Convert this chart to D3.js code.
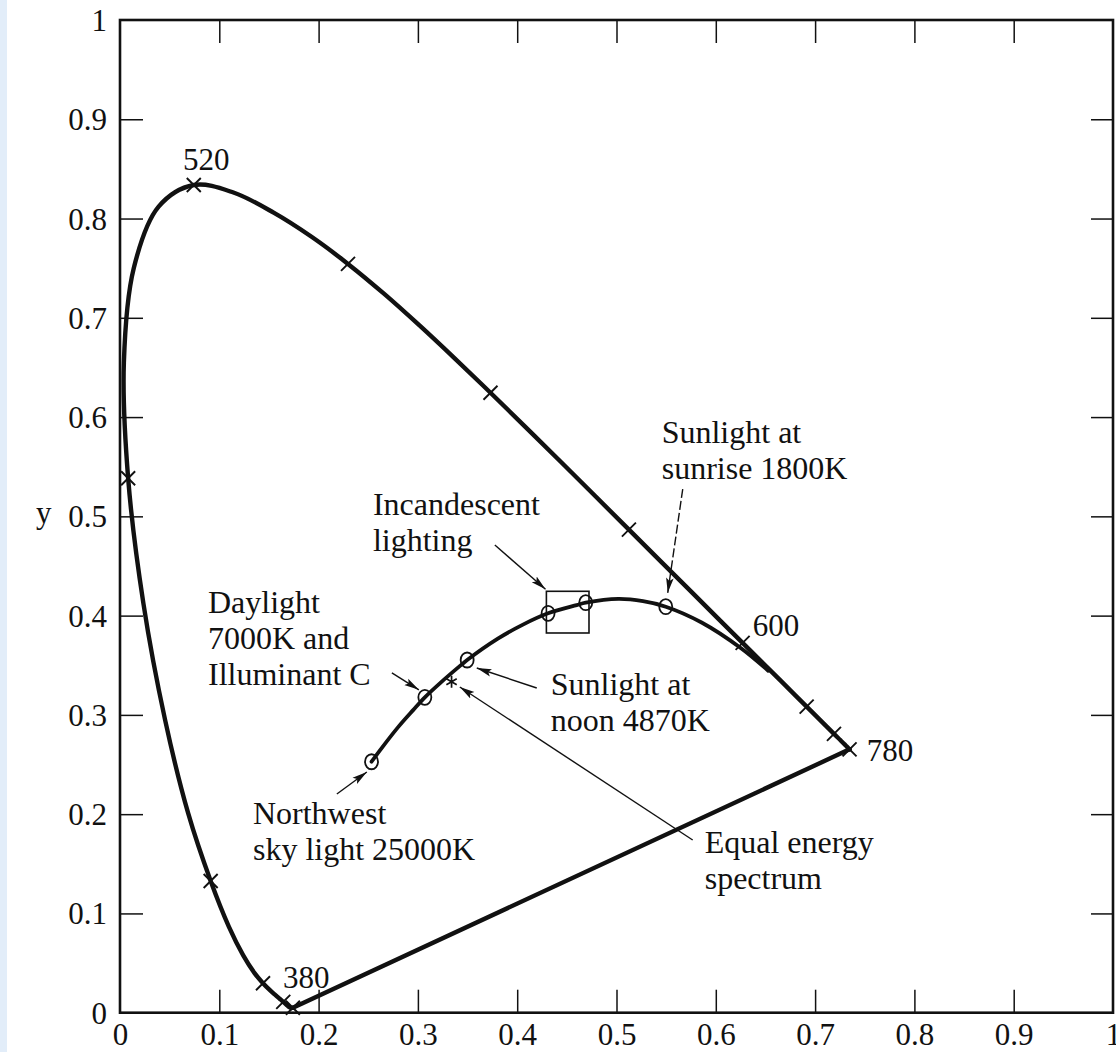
<!DOCTYPE html>
<html><head><meta charset="utf-8">
<script src="https://cdn.jsdelivr.net/npm/d3@7"></script>
<style>
html,body{margin:0;padding:0;background:#fff;}
svg{display:block;}
text{font-family:"Liberation Serif","Times New Roman",Times,serif;fill:#111;}
</style></head><body>
<svg id="chart" width="1116" height="1052"></svg>
<script>
// ---- Data ----
// Spectral locus (wavelength in nm, chromaticity x, y)
const locusWavelengths = [380,385,390,395,400,405,410,415,420,425,430,435,440,445,450,455,460,465,470,475,480,485,490,495,500,505,510,515,520,525,530,535,540,545,550,555,560,565,570,575,580,585,590,595,600,605,610,615,620,625,630,635,640,645,650,655,660,665,670,675,680,690,700,780];
const locusX = [.1741,.1740,.1738,.1736,.1733,.1730,.1726,.1721,.1714,.1703,.1689,.1669,.1644,.1611,.1566,.1510,.1440,.1355,.1241,.1096,.0913,.0687,.0454,.0235,.0082,.0039,.0139,.0389,.0743,.1142,.1547,.1929,.2296,.2658,.3016,.3373,.3731,.4087,.4441,.4788,.5125,.5448,.5752,.6029,.6270,.6482,.6658,.6801,.6915,.7006,.7079,.7140,.7190,.7230,.7260,.7283,.7300,.7311,.7320,.7327,.7334,.7344,.7347,.7347];
const locusY = [.0050,.0050,.0049,.0049,.0048,.0048,.0048,.0048,.0051,.0058,.0069,.0086,.0109,.0138,.0177,.0227,.0297,.0399,.0578,.0868,.1327,.2007,.2950,.4127,.5384,.6548,.7502,.8120,.8338,.8262,.8059,.7816,.7543,.7243,.6923,.6589,.6245,.5896,.5547,.5202,.4866,.4544,.4242,.3965,.3725,.3514,.3340,.3197,.3083,.2993,.2920,.2859,.2809,.2770,.2740,.2717,.2700,.2689,.2680,.2673,.2666,.2656,.2653,.2653];
const markedWavelengths = [380,440,460,480,500,520,540,560,580,600,620,640,780];
const labelledWavelengths = [380,520,600,780];
const wavelengthLabelPos = [[0.1641,0.0249],[0.0634,0.8488],[0.6371,0.3796],[0.7519,0.2536]];

// Blackbody (Planckian) locus, temperature K, x, y
const planckTemps = [25000,15000,10000,8000,7000,6000,5000,4870,4000,3500,3100,2700,2600,2200,2000,1800,1500,1200,1000];
const planckX = [.2533,.2637,.2807,.2952,.3070,.3221,.3451,.3496,.3805,.4053,.4311,.4599,.4690,.5020,.5267,.5496,.5857,.6251,.6528];
const planckY = [.2528,.2668,.2884,.3048,.3177,.3318,.3516,.3553,.3768,.3907,.4023,.4106,.4130,.4168,.4145,.4090,.3931,.3674,.3444];
const circledTemps = [25000,7000,4870,3100,2600,1800];
const equalEnergy = [0.3339,0.3334];
const incandescentBox = [0.4294,0.3825,0.4723,0.4245]; // x0,y0,x1,y1

// Annotations: text lines, anchor (left, baseline of first line), arrow from/to
const annLines = [["Incandescent","lighting"],["Sunlight at","sunrise 1800K"],["Daylight","7000K and","Illuminant C"],["Sunlight at","noon 4870K"],["Northwest","sky light 25000K"],["Equal energy","spectrum"]];
const annPos = [[0.2547,0.5015],[0.5455,0.5739],[0.0886,0.4027],[0.4338,0.3200],[0.1339,0.1901],[0.5888,0.1610]];
const annArrowFrom = [[0.3775,0.4711],[0.5667,0.5275],[0.2738,0.3423],[0.4197,0.3271],[0.2184,0.2203],[0.5767,0.1740]];
const annArrowTo = [[0.4285,0.4265],[0.5516,0.4230],[0.3010,0.3252],[0.3593,0.3472],[0.2486,0.2425],[0.3422,0.3281]];
const annDashed = [false,true,false,false,false,false];

// Axes
const tickValues = [0,0.1,0.2,0.3,0.4,0.5,0.6,0.7,0.8,0.9,1];
const tickLabels = ["0","0.1","0.2","0.3","0.4","0.5","0.6","0.7","0.8","0.9","1"];
const innerTicks = [0.1,0.2,0.3,0.4,0.5,0.6,0.7,0.8,0.9];
const yAxisTitle = "y";

// ---- Drawing ----
const svg = d3.select("#chart");
svg.append("rect").attr("width",1116).attr("height",1052).attr("fill","#fff");
svg.append("rect").attr("x",0).attr("y",0).attr("width",7).attr("height",1052).attr("fill","#e2edf9");

const x = d3.scaleLinear().domain([0,1]).range([120,1113]);
const y = d3.scaleLinear().domain([0,1]).range([1012.7,20]);

const labelFor = d => tickLabels[tickValues.indexOf(d)];
const FONT = "Liberation Serif, Times New Roman, serif";

// bottom axis (labels + inward ticks)
const gx = svg.append("g").attr("transform",`translate(0,${y(0)})`)
  .call(d3.axisBottom(x).tickValues(tickValues).tickFormat(labelFor).tickSizeInner(-23).tickSizeOuter(0).tickPadding(10));
gx.selectAll(".tick line").attr("stroke","#111").attr("stroke-width",1.5)
  .filter(d => d===0||d===1).remove();
gx.selectAll(".tick text").attr("font-size",31).attr("font-family",FONT).attr("fill","#111").attr("dy","0.72em");
gx.select(".domain").remove();

// left axis
const gy = svg.append("g").attr("transform",`translate(${x(0)},0)`)
  .call(d3.axisLeft(y).tickValues(tickValues).tickFormat(labelFor).tickSizeInner(-23).tickSizeOuter(0).tickPadding(13));
gy.selectAll(".tick line").attr("stroke","#111").attr("stroke-width",1.5)
  .filter(d => d===0||d===1).remove();
gy.selectAll(".tick text").attr("font-size",31).attr("font-family",FONT).attr("fill","#111").attr("dy","0.34em");
gy.select(".domain").remove();

// top and right ticks
const gt = svg.append("g").attr("transform",`translate(0,${y(1)})`)
  .call(d3.axisTop(x).tickValues(innerTicks).tickFormat("").tickSizeInner(-23).tickSizeOuter(0));
gt.selectAll(".tick line").attr("stroke","#111").attr("stroke-width",1.5);
gt.select(".domain").remove();
const gr = svg.append("g").attr("transform",`translate(${x(1)},0)`)
  .call(d3.axisRight(y).tickValues(innerTicks).tickFormat("").tickSizeInner(-22).tickSizeOuter(0));
gr.selectAll(".tick line").attr("stroke","#111").attr("stroke-width",1.5);
gr.select(".domain").remove();

// frame
svg.append("rect").attr("x",x(0)).attr("y",y(1)).attr("width",x(1)-x(0)).attr("height",y(0)-y(1))
  .attr("fill","none").attr("stroke","#111").attr("stroke-width",2.6);

// y title
svg.append("text").attr("x",36).attr("y",y(0.5)).attr("dy","0.2em").attr("font-size",31).text(yAxisTitle);

// spectral locus (closed with purple line)
const locus = locusWavelengths.map((w,i)=>({w, x:locusX[i], y:locusY[i]}));
const line = d3.line().x(d=>x(d.x)).y(d=>y(d.y)).curve(d3.curveCatmullRom.alpha(0.5));
svg.append("path").attr("d", line(locus)).attr("fill","none").attr("stroke","#111")
  .attr("stroke-width",4.4).attr("stroke-linejoin","round").attr("stroke-linecap","round");
const first = locus[0], last = locus[locus.length-1];
svg.append("path").attr("d", d3.line().x(d=>x(d.x)).y(d=>y(d.y))([last, first]))
  .attr("fill","none").attr("stroke","#111").attr("stroke-width",4.4).attr("stroke-linecap","round");

// wavelength x marks
const xs = 7;
const marks = locus.filter(d=>markedWavelengths.includes(d.w));
svg.append("g").selectAll("path").data(marks).join("path")
  .attr("d", d => { const px=x(d.x), py=y(d.y);
    return `M${px-xs},${py-xs}L${px+xs},${py+xs}M${px-xs},${py+xs}L${px+xs},${py-xs}`; })
  .attr("stroke","#111").attr("stroke-width",1.9).attr("fill","none");

// wavelength labels
svg.append("g").selectAll("text").data(labelledWavelengths).join("text")
  .attr("x",(d,i)=>x(wavelengthLabelPos[i][0])).attr("y",(d,i)=>y(wavelengthLabelPos[i][1]))
  .attr("font-size",31).text(d=>d);

// Planckian locus
const planck = planckTemps.map((t,i)=>({t, x:planckX[i], y:planckY[i]}));
svg.append("path").attr("d", line(planck)).attr("fill","none").attr("stroke","#111")
  .attr("stroke-width",3.8).attr("stroke-linecap","round");

// incandescent box
svg.append("rect").attr("x",x(incandescentBox[0])).attr("y",y(incandescentBox[3]))
  .attr("width",x(incandescentBox[2])-x(incandescentBox[0])).attr("height",y(incandescentBox[1])-y(incandescentBox[3]))
  .attr("fill","none").attr("stroke","#111").attr("stroke-width",1.6);

// circles
svg.append("g").selectAll("ellipse").data(planck.filter(d=>circledTemps.includes(d.t))).join("ellipse")
  .attr("cx",d=>x(d.x)).attr("cy",d=>y(d.y)).attr("rx",6.5).attr("ry",7.5)
  .attr("fill","none").attr("stroke","#111").attr("stroke-width",1.8);

// equal energy asterisk
svg.append("path").attr("transform",`translate(${x(equalEnergy[0])},${y(equalEnergy[1])})`)
  .attr("d", d3.symbol(d3.symbolAsterisk, 100)()).attr("stroke","#111").attr("stroke-width",1.7).attr("fill","none");

// arrow marker
svg.append("defs").append("marker").attr("id","arrow").attr("markerUnits","userSpaceOnUse")
  .attr("markerWidth",16).attr("markerHeight",10).attr("refX",15).attr("refY",5).attr("orient","auto")
  .append("path").attr("d","M0,1.2L15,5L0,8.8L3,5Z").attr("fill","#111");

// annotations
annLines.forEach((lines,i)=>{
  const t = svg.append("text").attr("x",x(annPos[i][0])).attr("y",y(annPos[i][1])).attr("font-size",32);
  lines.forEach((s,j)=>t.append("tspan").attr("x",x(annPos[i][0])).attr("dy", j===0?0:36).text(s));
  svg.append("line").attr("x1",x(annArrowFrom[i][0])).attr("y1",y(annArrowFrom[i][1]))
    .attr("x2",x(annArrowTo[i][0])).attr("y2",y(annArrowTo[i][1]))
    .attr("stroke","#111").attr("stroke-width",1.4)
    .attr("stroke-dasharray", annDashed[i] ? "9,3" : null)
    .attr("marker-end","url(#arrow)");
});
</script>
</body></html>
